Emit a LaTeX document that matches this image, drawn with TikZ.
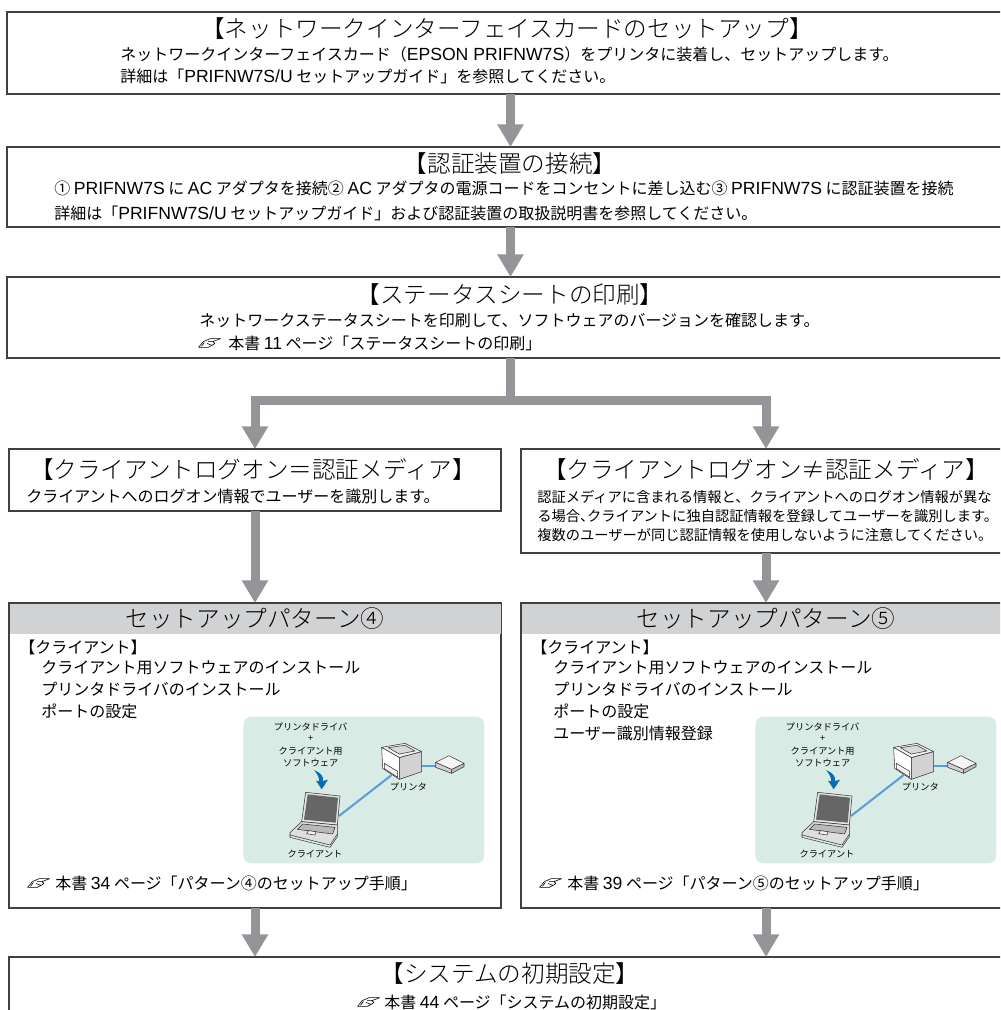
\documentclass[tikz,border=0pt]{standalone}
\usepackage{fontspec}
\setmainfont{Noto Sans CJK JP}
\newfontfamily\lightf{Noto Sans CJK JP Light}
\newfontfamily\latn[Scale=1.1]{Liberation Sans}
\usetikzlibrary{arrows.meta}
\definecolor{flowgray}{HTML}{939598}
\definecolor{headgray}{HTML}{D1D2D4}
\definecolor{panelgreen}{HTML}{D8EBE4}
\definecolor{linkblue}{HTML}{5B9BD8}
\definecolor{dlarrow}{HTML}{0A6DB3}
\newcommand{\la}[1]{{\latn #1}}
\newcommand{\hand}{\tikz[baseline=-0.35ex,x=0.72pt,y=-0.72pt,line width=0.45pt,line join=round]{%
  \draw (0,5) -- (5,-1) -- (12,-4) -- (23,-4) -- (15,-1) -- (17,1) -- (14,3) -- (10,5) -- cycle;
  \draw (6,0) -- (3,4) (9,1) -- (14,3) (10,-1) -- (15,-1);}}
\tikzset{
  box/.style={draw=black!75,line width=0.8pt,fill=white,inner sep=0pt,outer sep=0pt},
  header/.style={fill=headgray,inner sep=0pt,outer sep=0pt},
  title/.style={inner sep=0pt,font=\lightf\fontsize{17.7}{20}\selectfont},
  body/.style={inner sep=0pt,anchor=west,font=\fontsize{12}{14}\selectfont},
  narrow/.style={body,font=\fontsize{10.7}{13}\selectfont},
  tiny/.style={inner sep=0pt,font=\fontsize{6.9}{8}\selectfont},
  flow/.style={draw=flowgray,line width=6.75pt,-{Triangle[width=18.75pt,length=17pt,fill=flowgray]}},
  trunk/.style={draw=flowgray,line width=6.75pt},
  hw/.style={draw=black!80,line width=0.4pt,line join=round},
}
\newcommand{\pbox}[6][box]{\node[#1,minimum width={(#5-#3)*0.75pt},minimum height={(#6-#4)*0.75pt}] (#2) at ({(#3+#5)/2},{(#4+#6)/2}) {};}
\newcommand{\illus}[2]{%
\begin{scope}[xshift=#2*0.75pt,name prefix=#1]
\begin{scope}[x=0.25pt,y=-0.25pt,shift={(720,2130)}]
  \fill[panelgreen,rounded corners=6pt] (10,20) rectangle (733,460);
  \coordinate (pa) at (455,195);
  \coordinate (pb) at (545,167);
  \coordinate (dv) at (590,167);
  \coordinate (lp) at (297,318);
  \draw[linkblue,line width=1.5pt] (pa) -- (lp);
  \draw[linkblue,line width=1.5pt] (pb) -- (dv);
  % printer
  \filldraw[hw,fill=gray!12] (425,112) -- (495,100) -- (545,125) -- (478,143) -- cycle;
  \filldraw[hw,fill=white] (425,112) -- (478,143) -- (478,208) -- (428,175) -- cycle;
  \filldraw[hw,fill=gray!35] (478,143) -- (545,125) -- (545,185) -- (478,208) -- cycle;
  \filldraw[hw,fill=gray!30] (445,113) -- (495,106) -- (525,123) -- (478,132) -- cycle;
  \filldraw[hw,fill=gray!10] (433,160) -- (473,184) -- (473,202) -- (433,176) -- cycle;
  % device
  \filldraw[hw,fill=gray!35] (587,157) -- (635,178) -- (635,190) -- (587,172) -- cycle;
  \filldraw[hw,fill=gray!50] (635,178) -- (672,160) -- (672,170) -- (635,190) -- cycle;
  \filldraw[hw,fill=gray!8] (587,157) -- (627,137) -- (672,160) -- (635,178) -- cycle;
  % laptop
  \filldraw[hw,fill=gray!20] (197,247) -- (300,258) -- (292,345) -- (185,335) -- cycle;
  \fill[black!60] (203,253) -- (294,263) -- (287,338) -- (192,329) -- cycle;
  \filldraw[hw,fill=gray!25] (185,335) -- (292,345) -- (292,372) -- (270,405) -- (150,375) -- (150,368) -- cycle;
  \filldraw[hw,fill=gray!55] (188,342) -- (285,352) -- (278,372) -- (172,358) -- cycle;
  \filldraw[hw,fill=gray!10] (205,362) -- (228,365) -- (225,375) -- (200,371) -- cycle;
  \draw[hw] (150,375) -- (150,382) -- (270,412) -- (292,380) -- (292,372);
  % download arrow
  \fill[dlarrow] (222,180) .. controls (242,188) and (252,200) .. (249,213) -- (264,209) -- (245,238) -- (228,212) -- (237,214) .. controls (239,204) and (232,192) .. cycle;
  \node[tiny] (t1) at (212,50) {プリンタドライバ};
  \node[tiny] (t2) at (212,86) {+};
  \node[tiny] (t3) at (212,124) {クライアント用};
  \node[tiny] (t4) at (212,160) {ソフトウェア};
  \node[tiny] (t5) at (505,232) {プリンタ};
  \node[tiny] (t6) at (225,432) {クライアント};
\end{scope}
\end{scope}}
\begin{document}
\begin{tikzpicture}[x=0.75pt,y=-0.75pt]
\clip (0,0) rectangle (1000,1010);
\useasboundingbox (0,0) rectangle (1000,1010);
\fill[white] (0,0) rectangle (1000,1010);
% boxes
\pbox{b1}{7}{12}{1014}{94}
\pbox{b2}{7}{147}{1014}{227}
\pbox{b3}{7}{277}{1014}{358}
\pbox{c4}{9}{449}{501}{511}
\pbox{c5}{521}{449}{1011}{553}
\pbox{p4}{9}{603}{501}{908}
\pbox{p5}{521}{603}{1011}{908}
\pbox{b6}{9}{957}{1012}{1050}
\pbox[header]{h4}{9.5}{603.5}{500.5}{634}
\pbox[header]{h5}{521.5}{603.5}{1011}{634}
% connectors
\coordinate (j) at (510.5,400);
\draw[flow] (b1.south) -- (b2.north);
\draw[flow] (b2.south) -- (b3.north);
\draw[trunk] (b3.south) -- (j);
\draw[flow] (j) -| (c4.north);
\draw[flow] (j) -| (c5.north);
\draw[flow] (c4.south) -- (p4.north);
\draw[flow] (c5.south) -- (p5.north);
\draw[flow] (p4.south) -- (b6.north -| p4.south);
\draw[flow] (p5.south) -- (b6.north -| p5.south);
% box 1
\node[title] (t1) at (507,29) {【ネットワークインターフェイスカードのセットアップ】};
\node[body] (l11) at (120,54) {ネットワークインターフェイスカード（\la{EPSON PRIFNW7S}）をプリンタに装着し、セットアップします。};
\node[body] (l12) at (120,76) {詳細は「\la{PRIFNW7S/U} セットアップガイド」を参照してください。};
% box 2
\node[title] (t2) at (510,164) {【認証装置の接続】};
\node[body] (l21) at (54,188) {① \la{PRIFNW7S} に \la{AC} アダプタを接続② \la{AC} アダプタの電源コードをコンセントに差し込む③ \la{PRIFNW7S} に認証装置を接続};
\node[body] (l22) at (54,213) {詳細は「\la{PRIFNW7S/U} セットアップガイド」および認証装置の取扱説明書を参照してください。};
% box 3
\node[title] (t3) at (510,295) {【ステータスシートの印刷】};
\node[body] (l31) at (199,320) {ネットワークステータスシートを印刷して、ソフトウェアのバージョンを確認します。};
\node[body] (i3) at (198,343) {\hand};
\node[body] (l32) at (228,343) {本書 \la{11} ページ「ステータスシートの印刷」};
% box 4 / 5
\node[title] (t4) at (253,470) {【クライアントログオン＝認証メディア】};
\node[body] (l41) at (26,496) {クライアントへのログオン情報でユーザーを識別します。};
\node[title] (t5) at (766,470) {【クライアントログオン≠認証メディア】};
\node[narrow] (l51) at (537,497) {認証メディアに含まれる情報と、クライアントへのログオン情報が異な};
\node[narrow] (l52) at (537,516) {る場合\makebox[0.5em][l]{、}クライアントに独自認証情報を登録してユーザーを識別します。};
\node[narrow] (l53) at (537,535) {複数のユーザーが同じ認証情報を使用しないように注意してください。};
% pattern 4
\node[title] (t6) at (255,619) {セットアップパターン④};
\node[body] (l61) at (19,647) {【クライアント】};
\node[body] (l62) at (41,668) {クライアント用ソフトウェアのインストール};
\node[body] (l63) at (41,689) {プリンタドライバのインストール};
\node[body] (l64) at (41,711) {ポートの設定};
\node[body] (i6) at (27,883) {\hand};
\node[body] (l65) at (55,883) {本書 \la{34} ページ「パターン④のセットアップ手順」};
% pattern 5
\node[title] (t7) at (766,619) {セットアップパターン⑤};
\node[body] (l71) at (531,647) {【クライアント】};
\node[body] (l72) at (553,668) {クライアント用ソフトウェアのインストール};
\node[body] (l73) at (553,689) {プリンタドライバのインストール};
\node[body] (l74) at (553,711) {ポートの設定};
\node[body] (l75) at (553,733) {ユーザー識別情報登録};
\node[body] (i7) at (539,883) {\hand};
\node[body] (l76) at (567,883) {本書 \la{39} ページ「パターン⑤のセットアップ手順」};
% last
\node[title] (t8) at (510,974) {【システムの初期設定】};
\node[body] (i8) at (357,1002) {\hand};
\node[body] (l81) at (384,1002) {本書 \la{44} ページ「システムの初期設定」};
% illustrations
\illus{a}{0}
\illus{e}{512}
\end{tikzpicture}
\end{document}
